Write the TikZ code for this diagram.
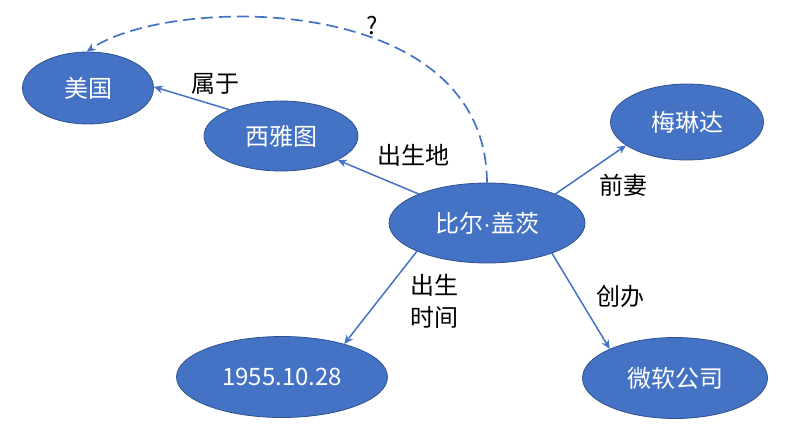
\documentclass[tikz,border=0pt]{standalone}
\usepackage{fontspec}
\setmainfont{Noto Sans CJK SC}
\newfontfamily\latinfont{Liberation Sans}
\usetikzlibrary{shapes.geometric,arrows.meta}
\definecolor{nodefill}{HTML}{4472C4}
\definecolor{nodeedge}{HTML}{2F528F}
\definecolor{linkblue}{HTML}{4472C4}
\begin{document}
\begin{tikzpicture}[x=1pt,y=-1pt,
  entity/.style={ellipse,fill=nodefill,draw=nodeedge,line width=0.8pt,
    inner sep=0pt,text=white,font=\fontsize{24}{28}\selectfont},
  link/.style={draw=linkblue,line width=1.5pt,-{Stealth[length=9pt,width=8pt]}},
  relname/.style={text=black,font=\fontsize{24}{32}\selectfont,align=center,inner sep=0pt}]
\useasboundingbox (0,0) rectangle (811,442);

\node[entity,minimum width=131pt,minimum height=72pt] (usa) at (88,88) {美国};
\node[entity,minimum width=154pt,minimum height=70pt] (sea) at (281,136) {西雅图};
\node[entity,minimum width=196pt,minimum height=80pt] (bill) at (487,223) {比尔{\latinfont ·}盖茨};
\node[entity,minimum width=153pt,minimum height=76pt] (mel) at (687,122) {梅琳达};
\node[entity,minimum width=211pt,minimum height=81pt] (date) at (282,377) {1955.10.28};
\node[entity,minimum width=185pt,minimum height=81pt] (ms) at (675,378) {微软公司};

\draw[link] (bill.157) -- (sea.337);
\draw[link] (sea.153) -- (usa.1);
\draw[link] (bill.23) -- (mel.201);
\draw[link] (bill.202) -- (date.28);
\draw[link] (bill.335) -- (ms.156);
\draw[link,line width=1.7pt,dash pattern=on 12pt off 6pt] (bill.90) .. controls (486,-10) and (170,-5) .. (usa.92);

\node[relname] (lbelong) at (215,84) {属于};
\node[relname] (lborn) at (413,155) {出生地};
\node[relname] (lwife) at (623,185) {前妻};
\node[relname] (ltime) at (434,301) {出生\\时间};
\node[relname] (lfound) at (620,296) {创办};
\node[relname] (lask) at (372,26) {?};
\end{tikzpicture}
\end{document}
